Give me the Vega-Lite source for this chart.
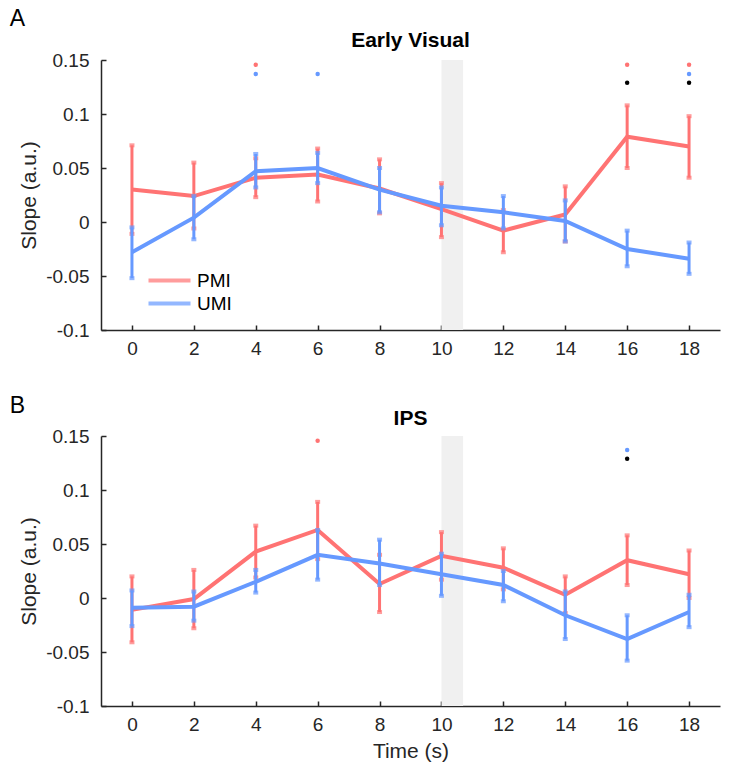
{
  "$schema": "https://vega.github.io/schema/vega-lite/v6.json",
  "padding": {"left": 9, "top": 7, "right": 28, "bottom": 10},
  "background": "white",
  "bounds": "flush",
  "spacing": 106,
  "resolve": {"legend": {"color": "independent"}},
  "config": {
    "font": "Liberation Sans",
    "view": {"stroke": null},
    "axis": {"grid": false, "domainColor": "#262626", "domainWidth": 1.5, "tickColor": "#262626", "tickWidth": 1.5, "tickSize": -5, "labelColor": "#262626", "labelFontSize": 19, "labelFont": "Liberation Sans", "titleColor": "#262626", "titleFontSize": 21, "titleFontWeight": "normal", "titleFont": "Liberation Sans"}
  },
  "datasets": {
    "A": [
      {"series": "PMI", "t": 0, "m": 0.030, "lo": -0.011, "hi": 0.071},
      {"series": "PMI", "t": 2, "m": 0.024, "lo": -0.006, "hi": 0.055},
      {"series": "PMI", "t": 4, "m": 0.041, "lo": 0.023, "hi": 0.059},
      {"series": "PMI", "t": 6, "m": 0.044, "lo": 0.019, "hi": 0.068},
      {"series": "PMI", "t": 8, "m": 0.031, "lo": 0.008, "hi": 0.058},
      {"series": "PMI", "t": 10, "m": 0.012, "lo": -0.014, "hi": 0.036},
      {"series": "PMI", "t": 12, "m": -0.008, "lo": -0.028, "hi": 0.011},
      {"series": "PMI", "t": 14, "m": 0.007, "lo": -0.018, "hi": 0.033},
      {"series": "PMI", "t": 16, "m": 0.079, "lo": 0.050, "hi": 0.108},
      {"series": "PMI", "t": 18, "m": 0.070, "lo": 0.041, "hi": 0.098},
      {"series": "UMI", "t": 0, "m": -0.028, "lo": -0.052, "hi": -0.005},
      {"series": "UMI", "t": 2, "m": 0.004, "lo": -0.016, "hi": 0.024},
      {"series": "UMI", "t": 4, "m": 0.047, "lo": 0.032, "hi": 0.063},
      {"series": "UMI", "t": 6, "m": 0.050, "lo": 0.036, "hi": 0.064},
      {"series": "UMI", "t": 8, "m": 0.030, "lo": 0.009, "hi": 0.050},
      {"series": "UMI", "t": 10, "m": 0.015, "lo": -0.003, "hi": 0.032},
      {"series": "UMI", "t": 12, "m": 0.009, "lo": -0.006, "hi": 0.024},
      {"series": "UMI", "t": 14, "m": 0.001, "lo": -0.018, "hi": 0.020},
      {"series": "UMI", "t": 16, "m": -0.025, "lo": -0.041, "hi": -0.008},
      {"series": "UMI", "t": 18, "m": -0.034, "lo": -0.048, "hi": -0.019}
    ],
    "B": [
      {"series": "PMI", "t": 0, "m": -0.011, "lo": -0.041, "hi": 0.020},
      {"series": "PMI", "t": 2, "m": -0.001, "lo": -0.028, "hi": 0.026},
      {"series": "PMI", "t": 4, "m": 0.043, "lo": 0.019, "hi": 0.067},
      {"series": "PMI", "t": 6, "m": 0.063, "lo": 0.036, "hi": 0.089},
      {"series": "PMI", "t": 8, "m": 0.013, "lo": -0.013, "hi": 0.040},
      {"series": "PMI", "t": 10, "m": 0.039, "lo": 0.017, "hi": 0.061},
      {"series": "PMI", "t": 12, "m": 0.028, "lo": 0.008, "hi": 0.046},
      {"series": "PMI", "t": 14, "m": 0.003, "lo": -0.014, "hi": 0.020},
      {"series": "PMI", "t": 16, "m": 0.035, "lo": 0.012, "hi": 0.058},
      {"series": "PMI", "t": 18, "m": 0.022, "lo": 0.000, "hi": 0.044},
      {"series": "UMI", "t": 0, "m": -0.009, "lo": -0.026, "hi": 0.007},
      {"series": "UMI", "t": 2, "m": -0.008, "lo": -0.021, "hi": 0.006},
      {"series": "UMI", "t": 4, "m": 0.015, "lo": 0.005, "hi": 0.026},
      {"series": "UMI", "t": 6, "m": 0.040, "lo": 0.017, "hi": 0.063},
      {"series": "UMI", "t": 8, "m": 0.032, "lo": 0.012, "hi": 0.054},
      {"series": "UMI", "t": 10, "m": 0.022, "lo": 0.002, "hi": 0.041},
      {"series": "UMI", "t": 12, "m": 0.012, "lo": -0.003, "hi": 0.025},
      {"series": "UMI", "t": 14, "m": -0.016, "lo": -0.038, "hi": 0.006},
      {"series": "UMI", "t": 16, "m": -0.038, "lo": -0.058, "hi": -0.016},
      {"series": "UMI", "t": 18, "m": -0.013, "lo": -0.027, "hi": 0.003}
    ],
    "sigA": [
      {"t": 4, "sig": "PMI", "v": 0.1455},
      {"t": 4, "sig": "UMI", "v": 0.137},
      {"t": 6, "sig": "UMI", "v": 0.137},
      {"t": 16, "sig": "PMI", "v": 0.1455},
      {"t": 16, "sig": "diff", "v": 0.129},
      {"t": 18, "sig": "PMI", "v": 0.1455},
      {"t": 18, "sig": "UMI", "v": 0.137},
      {"t": 18, "sig": "diff", "v": 0.129}
    ],
    "sigB": [
      {"t": 6, "sig": "PMI", "v": 0.1455},
      {"t": 16, "sig": "UMI", "v": 0.137},
      {"t": 16, "sig": "diff", "v": 0.129}
    ],
    "band": [{"start": 10, "end": 10.7}],
    "letterA": [{"label": "A"}],
    "letterB": [{"label": "B"}],
    "titleA": [{"label": "Early Visual"}],
    "titleB": [{"label": "IPS"}]
  },
  "vconcat": [
    {
      "width": 619, "height": 270,
      "layer": [
        {"data": {"name": "band"}, "mark": {"type": "rect", "color": "#f0f0f0"},
         "encoding": {"x": {"field": "start", "type": "quantitative", "scale": {"domain": [-1, 19], "nice": false, "zero": false}, "axis": {"values": [0, 2, 4, 6, 8, 10, 12, 14, 16, 18], "title": null, "labelPadding": 14}}, "x2": {"field": "end"}}},
        {"mark": {"type": "rule", "color": "#808080", "strokeWidth": 4, "strokeDash": [18, 18]},
         "encoding": {"y": {"datum": 0, "type": "quantitative", "scale": {"domain": [-0.1, 0.15], "nice": false, "zero": false}, "axis": {"values": [-0.1, -0.05, 0, 0.05, 0.1, 0.15], "labelExpr": "'' + datum.value", "title": "Slope (a.u.)", "labelPadding": 17, "titlePadding": 6}}}},
        {"data": {"name": "A"}, "transform": [{"filter": "datum.series === 'PMI'"}], "mark": {"type": "line", "strokeWidth": 4},
         "encoding": {
           "x": {"field": "t", "type": "quantitative"},
           "y": {"field": "m", "type": "quantitative"},
           "color": {"field": "series", "type": "nominal", "scale": {"domain": ["PMI", "UMI"], "range": ["#FF7373", "#6699FF"]},
             "legend": {"title": null, "orient": "none", "legendX": 56, "legendY": 208, "symbolType": "M-2,0H2", "symbolSize": 441, "symbolStrokeWidth": 4, "symbolFillColor": "transparent", "labelFontSize": 19, "labelColor": "#000000", "rowPadding": -1, "labelOffset": 15, "padding": 0}}
         }},
        {"data": {"name": "A"}, "transform": [{"filter": "datum.series === 'PMI'"}], "mark": {"type": "rule", "strokeWidth": 3},
         "encoding": {"x": {"field": "t", "type": "quantitative"}, "y": {"field": "lo", "type": "quantitative"}, "y2": {"field": "hi"}, "color": {"field": "series", "type": "nominal"}}},
        {"data": {"name": "A"}, "transform": [{"filter": "datum.series === 'PMI'"}], "mark": {"type": "tick", "orient": "horizontal", "size": 5, "thickness": 4},
         "encoding": {"x": {"field": "t", "type": "quantitative"}, "y": {"field": "lo", "type": "quantitative"}, "color": {"field": "series", "type": "nominal"}}},
        {"data": {"name": "A"}, "transform": [{"filter": "datum.series === 'PMI'"}], "mark": {"type": "tick", "orient": "horizontal", "size": 5, "thickness": 4},
         "encoding": {"x": {"field": "t", "type": "quantitative"}, "y": {"field": "hi", "type": "quantitative"}, "color": {"field": "series", "type": "nominal"}}},
        {"data": {"name": "A"}, "transform": [{"filter": "datum.series === 'UMI'"}], "mark": {"type": "line", "strokeWidth": 4},
         "encoding": {"x": {"field": "t", "type": "quantitative"}, "y": {"field": "m", "type": "quantitative"}, "color": {"field": "series", "type": "nominal"}}},
        {"data": {"name": "A"}, "transform": [{"filter": "datum.series === 'UMI'"}], "mark": {"type": "rule", "strokeWidth": 3},
         "encoding": {"x": {"field": "t", "type": "quantitative"}, "y": {"field": "lo", "type": "quantitative"}, "y2": {"field": "hi"}, "color": {"field": "series", "type": "nominal"}}},
        {"data": {"name": "A"}, "transform": [{"filter": "datum.series === 'UMI'"}], "mark": {"type": "tick", "orient": "horizontal", "size": 5, "thickness": 4},
         "encoding": {"x": {"field": "t", "type": "quantitative"}, "y": {"field": "lo", "type": "quantitative"}, "color": {"field": "series", "type": "nominal"}}},
        {"data": {"name": "A"}, "transform": [{"filter": "datum.series === 'UMI'"}], "mark": {"type": "tick", "orient": "horizontal", "size": 5, "thickness": 4},
         "encoding": {"x": {"field": "t", "type": "quantitative"}, "y": {"field": "hi", "type": "quantitative"}, "color": {"field": "series", "type": "nominal"}}},
        {"data": {"name": "sigA"}, "mark": {"type": "point", "filled": true, "size": 20, "opacity": 1},
         "encoding": {"x": {"field": "t", "type": "quantitative"}, "y": {"field": "v", "type": "quantitative"},
           "fill": {"field": "sig", "type": "nominal", "scale": {"domain": ["PMI", "UMI", "diff"], "range": ["#FF7373", "#6699FF", "#000000"]}, "legend": null}}},
        {"data": {"name": "titleA"}, "mark": {"type": "text", "fontSize": 21, "fontWeight": "bold", "align": "center", "baseline": "middle", "color": "#000000", "clip": false},
         "encoding": {"x": {"datum": 9, "type": "quantitative"}, "y": {"datum": 0.1675, "type": "quantitative"}, "text": {"field": "label", "type": "nominal"}}},
        {"data": {"name": "letterA"}, "mark": {"type": "text", "fontSize": 23, "align": "center", "baseline": "middle", "color": "#000000", "clip": false},
         "encoding": {"x": {"datum": -3.7, "type": "quantitative"}, "y": {"datum": 0.188, "type": "quantitative"}, "text": {"field": "label", "type": "nominal"}}}
      ]
    },
    {
      "width": 619, "height": 270,
      "layer": [
        {"data": {"name": "band"}, "mark": {"type": "rect", "color": "#f0f0f0"},
         "encoding": {"x": {"field": "start", "type": "quantitative", "scale": {"domain": [-1, 19], "nice": false, "zero": false}, "axis": {"values": [0, 2, 4, 6, 8, 10, 12, 14, 16, 18], "title": "Time (s)", "labelPadding": 14, "titlePadding": 6}}, "x2": {"field": "end"}}},
        {"mark": {"type": "rule", "color": "#808080", "strokeWidth": 4, "strokeDash": [18, 18]},
         "encoding": {"y": {"datum": 0, "type": "quantitative", "scale": {"domain": [-0.1, 0.15], "nice": false, "zero": false}, "axis": {"values": [-0.1, -0.05, 0, 0.05, 0.1, 0.15], "labelExpr": "'' + datum.value", "title": "Slope (a.u.)", "labelPadding": 17, "titlePadding": 6}}}},
        {"data": {"name": "B"}, "transform": [{"filter": "datum.series === 'PMI'"}], "mark": {"type": "line", "strokeWidth": 4},
         "encoding": {
           "x": {"field": "t", "type": "quantitative"},
           "y": {"field": "m", "type": "quantitative"},
           "color": {"field": "series", "type": "nominal", "scale": {"domain": ["PMI", "UMI"], "range": ["#FF7373", "#6699FF"]}, "legend": null}
         }},
        {"data": {"name": "B"}, "transform": [{"filter": "datum.series === 'PMI'"}], "mark": {"type": "rule", "strokeWidth": 3},
         "encoding": {"x": {"field": "t", "type": "quantitative"}, "y": {"field": "lo", "type": "quantitative"}, "y2": {"field": "hi"}, "color": {"field": "series", "type": "nominal", "legend": null}}},
        {"data": {"name": "B"}, "transform": [{"filter": "datum.series === 'PMI'"}], "mark": {"type": "tick", "orient": "horizontal", "size": 5, "thickness": 4},
         "encoding": {"x": {"field": "t", "type": "quantitative"}, "y": {"field": "lo", "type": "quantitative"}, "color": {"field": "series", "type": "nominal", "legend": null}}},
        {"data": {"name": "B"}, "transform": [{"filter": "datum.series === 'PMI'"}], "mark": {"type": "tick", "orient": "horizontal", "size": 5, "thickness": 4},
         "encoding": {"x": {"field": "t", "type": "quantitative"}, "y": {"field": "hi", "type": "quantitative"}, "color": {"field": "series", "type": "nominal", "legend": null}}},
        {"data": {"name": "B"}, "transform": [{"filter": "datum.series === 'UMI'"}], "mark": {"type": "line", "strokeWidth": 4},
         "encoding": {"x": {"field": "t", "type": "quantitative"}, "y": {"field": "m", "type": "quantitative"}, "color": {"field": "series", "type": "nominal", "legend": null}}},
        {"data": {"name": "B"}, "transform": [{"filter": "datum.series === 'UMI'"}], "mark": {"type": "rule", "strokeWidth": 3},
         "encoding": {"x": {"field": "t", "type": "quantitative"}, "y": {"field": "lo", "type": "quantitative"}, "y2": {"field": "hi"}, "color": {"field": "series", "type": "nominal", "legend": null}}},
        {"data": {"name": "B"}, "transform": [{"filter": "datum.series === 'UMI'"}], "mark": {"type": "tick", "orient": "horizontal", "size": 5, "thickness": 4},
         "encoding": {"x": {"field": "t", "type": "quantitative"}, "y": {"field": "lo", "type": "quantitative"}, "color": {"field": "series", "type": "nominal", "legend": null}}},
        {"data": {"name": "B"}, "transform": [{"filter": "datum.series === 'UMI'"}], "mark": {"type": "tick", "orient": "horizontal", "size": 5, "thickness": 4},
         "encoding": {"x": {"field": "t", "type": "quantitative"}, "y": {"field": "hi", "type": "quantitative"}, "color": {"field": "series", "type": "nominal", "legend": null}}},
        {"data": {"name": "sigB"}, "mark": {"type": "point", "filled": true, "size": 20, "opacity": 1},
         "encoding": {"x": {"field": "t", "type": "quantitative"}, "y": {"field": "v", "type": "quantitative"},
           "fill": {"field": "sig", "type": "nominal", "scale": {"domain": ["PMI", "UMI", "diff"], "range": ["#FF7373", "#6699FF", "#000000"]}, "legend": null}}},
        {"data": {"name": "titleB"}, "mark": {"type": "text", "fontSize": 21, "fontWeight": "bold", "align": "center", "baseline": "middle", "color": "#000000", "clip": false},
         "encoding": {"x": {"datum": 9, "type": "quantitative"}, "y": {"datum": 0.166, "type": "quantitative"}, "text": {"field": "label", "type": "nominal"}}},
        {"data": {"name": "letterB"}, "mark": {"type": "text", "fontSize": 23, "align": "center", "baseline": "middle", "color": "#000000", "clip": false},
         "encoding": {"x": {"datum": -3.7, "type": "quantitative"}, "y": {"datum": 0.178, "type": "quantitative"}, "text": {"field": "label", "type": "nominal"}}}
      ]
    }
  ]
}
